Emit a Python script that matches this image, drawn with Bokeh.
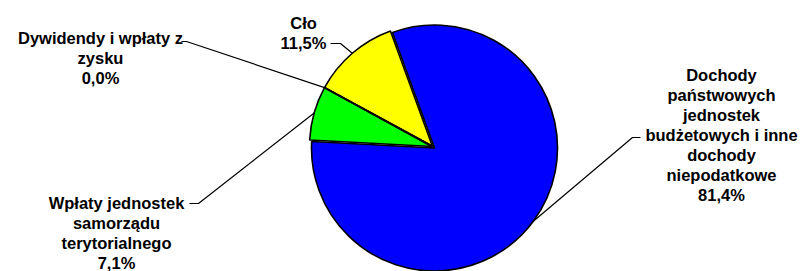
import math
from bokeh.plotting import figure
from bokeh.models import Range1d, ColumnDataSource
from bokeh.core.properties import value
from bokeh.embed import file_html
from bokeh.resources import INLINE

# ---- data ----
names = ["Cło",
         "Dywidendy i wpłaty z\nzysku",
         "Wpłaty jednostek\nsamorządu\nterytorialnego",
         "Dochody\npaństwowych\njednostek\nbudżetowych i inne\ndochody\nniepodatkowe"]
shares = [11.5, 0.0, 7.1, 81.4]
colors = ["#FFFF00", "#FF00FF", "#00FF00", "#0000FF"]

# ---- layout (screen px -> data units, 1:1) ----
W, H = 806, 271
def sx(x):
    return x
def sy(y):
    return H - y

cx, cy = sx(434), sy(147.5)
R = 123
start_deg = 110.0
explode = [(-2, 1.5), (-2, 1.5), (-2, 1.5), (0, 0)]

label_anchor = [(303, 22), (100, 37), (116, 202), (721, 74)]
leader_elbow = [[(330, 43), (340, 43)],
                [(181, 41), (186, 41)],
                [(189, 203), (198, 203)],
                [(640, 137), (632, 137)]]
line_step = 20

p = figure(width=W, height=H, output_backend="svg", toolbar_location=None,
           x_range=Range1d(0, W), y_range=Range1d(0, H), min_border=0,
           border_fill_color=None, background_fill_color="white")
p.axis.visible = False
p.grid.visible = False
p.outline_line_color = None

total = sum(shares)
a = start_deg
wx, wy, sa, ea, mids = [], [], [], [], []
for i, s in enumerate(shares):
    span = 360.0 * s / total
    sa.append(math.radians(a % 360))
    ea.append(math.radians((a + span) % 360))
    mids.append(math.radians(a + span / 2))
    wx.append(cx + explode[i][0])
    wy.append(cy + explode[i][1])
    a += span

nz = [i for i in (3, 0, 2) if shares[i] > 0]
src = ColumnDataSource(dict(
    x=[wx[i] for i in nz], y=[wy[i] for i in nz],
    s=[sa[i] for i in nz], e=[ea[i] for i in nz],
    c=[colors[i] for i in nz]))
p.wedge(x="x", y="y", radius=R, start_angle="s", end_angle="e",
        fill_color="c", line_color="black", line_width=1.6, source=src)

# zero-size slices: just their edge
for i, s in enumerate(shares):
    if s == 0:
        p.segment(x0=[wx[i]], y0=[wy[i]],
                  x1=[wx[i] + R * math.cos(sa[i])], y1=[wy[i] + R * math.sin(sa[i])],
                  line_color="black", line_width=2.2)

# leader lines
for i in range(len(shares)):
    ex = wx[i] + R * math.cos(mids[i])
    ey = wy[i] + R * math.sin(mids[i])
    pts = leader_elbow[i]
    xs = [sx(pts[0][0]), sx(pts[1][0]), ex]
    ys = [sy(pts[0][1]), sy(pts[1][1]), ey]
    p.line(xs, ys, line_color="black", line_width=1.2)

# labels
tx, ty, tt = [], [], []
for i, n in enumerate(names):
    lines = n.split("\n") + [("%.1f" % shares[i]).replace(".", ",") + "%"]
    ax, ay = label_anchor[i]
    for k, ln in enumerate(lines):
        tx.append(sx(ax))
        ty.append(sy(ay + k * line_step))
        tt.append(ln)
p.text(x=tx, y=ty, text=tt, text_font=value("Liberation Sans"),
       text_font_style="bold", text_font_size="16.5px", text_color="black",
       text_align="center", text_baseline="alphabetic")

open("out.html", "w").write(file_html(p, INLINE))
